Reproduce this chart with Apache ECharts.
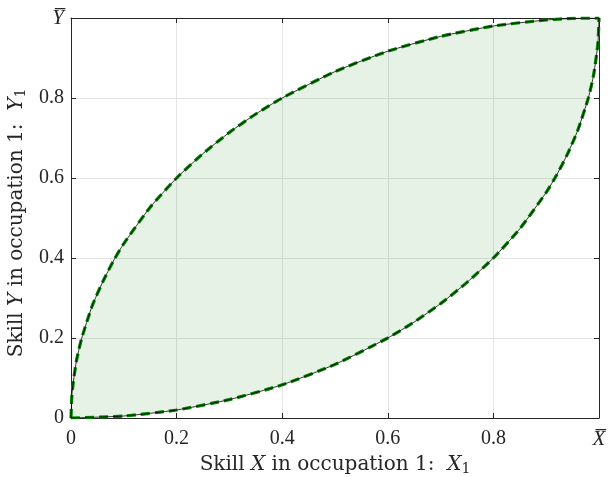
<!DOCTYPE html>
<html>
<head>
<meta charset="utf-8">
<script src="https://cdn.jsdelivr.net/npm/echarts@6/dist/echarts.min.js"></script>
<style>html,body{margin:0;padding:0;background:#fff}#c{width:609px;height:477px}</style>
</head>
<body>
<div id="c"></div>
<script>
// Upper boundary
const upperX = [0, 0.002, 0.01, 0.02, 0.04, 0.06, 0.08, 0.1, 0.15, 0.2, 0.25, 0.3, 0.35, 0.4, 0.5, 0.6, 0.7, 0.8, 0.9, 0.95, 1];
const upperY = [0, 0.063, 0.141, 0.198, 0.28, 0.34, 0.392, 0.436, 0.527, 0.6, 0.661, 0.714, 0.76, 0.8, 0.866, 0.917, 0.954, 0.98, 0.995, 0.999, 1];
// Lower boundary
const lowerX = [0, 0.1, 0.2, 0.3, 0.4, 0.5, 0.6, 0.65, 0.7, 0.75, 0.8, 0.85, 0.9, 0.92, 0.94, 0.96, 0.98, 0.99, 0.998, 1];
const lowerY = [0, 0.005, 0.02, 0.046, 0.083, 0.134, 0.2, 0.24, 0.286, 0.339, 0.4, 0.473, 0.564, 0.608, 0.659, 0.72, 0.801, 0.859, 0.937, 1];
const xTicks = ['0', '0.2', '0.4', '0.6', '0.8', 'X\u0305'];
const yTicks = ['0', '0.2', '0.4', '0.6', '0.8', 'Y\u0305'];

const upper = upperX.map((x, i) => [x, upperY[i]]);
const lower = lowerX.map((x, i) => [x, lowerY[i]]);

const NFONT = 'DejaVu Serif';
const TFONT = 'Liberation Serif';
const TXT = '#262626';
const chart = echarts.init(document.getElementById('c'));

function tickFmt(labels) {
  return function (v) {
    const i = Math.round(v / 0.2);
    const s = labels[i];
    return i === 5 ? '{it|' + s + '}' : s;
  };
}
const tickRich = { it: { fontFamily: TFONT, fontStyle: 'italic', fontSize: 21, color: TXT } };
const nameRich = {
  n: { fontFamily: NFONT, fontSize: 20, color: TXT, lineHeight: 22 },
  i: { fontFamily: NFONT, fontSize: 20, fontStyle: 'italic', color: TXT, lineHeight: 22 },
  s: { fontFamily: NFONT, fontSize: 14, color: TXT, lineHeight: 14, verticalAlign: 'bottom' }
};

const axisCommon = {
  type: 'value', min: 0, max: 1, interval: 0.2,
  axisLine: { show: true, onZero: false, lineStyle: { color: TXT, width: 1 } },
  axisTick: { show: true, inside: true, length: 5, lineStyle: { color: TXT } },
};

const lineSeries = (data, z) => [
  { type: 'line', data: data, showSymbol: false, smooth: 0.2, z: z,
    lineStyle: { color: '#008000', width: 3.2, type: [9, 5] }, animation: false },
  { type: 'line', data: data, showSymbol: false, smooth: 0.2, z: z + 1,
    lineStyle: { color: '#000', width: 0.8 }, animation: false }
];

chart.setOption({
  animation: false,
  grid: { left: 71, right: 10, top: 18, bottom: 59, containLabel: false, outerBoundsMode: 'none' },
  xAxis: [
    Object.assign({}, axisCommon, {
      position: 'bottom',
      name: '{n|Skill }{i|X}{n| in occupation 1:  }{i|X}{s|1}',
      nameLocation: 'middle', nameGap: 34,
      nameTextStyle: { rich: nameRich },
      axisLabel: { formatter: tickFmt(xTicks), fontFamily: TFONT, fontSize: 20, color: TXT, margin: 11, rich: tickRich },
      splitLine: { show: true, lineStyle: { color: '#e3e3e3', width: 1 } }
    }),
    Object.assign({}, axisCommon, {
      position: 'top', axisLabel: { show: false }, splitLine: { show: false }
    })
  ],
  yAxis: [
    Object.assign({}, axisCommon, {
      position: 'left',
      name: '{n|Skill }{i|Y}{n| in occupation 1:  }{i|Y}{s|1}',
      nameLocation: 'middle', nameGap: 42, nameRotate: 90,
      nameTextStyle: { rich: nameRich, padding: [0, 10, 0, 0] },
      axisLabel: { formatter: tickFmt(yTicks), fontFamily: TFONT, fontSize: 20, color: TXT, margin: 7, rich: tickRich },
      splitLine: { show: true, lineStyle: { color: '#e3e3e3', width: 1 } }
    }),
    Object.assign({}, axisCommon, {
      position: 'right', axisLabel: { show: false }, splitLine: { show: false }
    })
  ],
  series: [
    {
      type: 'custom', coordinateSystem: 'cartesian2d', data: [[0, 0]], z: 1,
      renderItem: function (params, api) {
        const pts = upper.concat(lower.slice().reverse()).map(p => api.coord(p));
        return { type: 'polygon', shape: { points: pts }, style: { fill: 'rgba(0,128,0,0.1)' } };
      }
    },
    ...lineSeries(upper, 3),
    ...lineSeries(lower, 3)
  ]
});
</script>
</body>
</html>
